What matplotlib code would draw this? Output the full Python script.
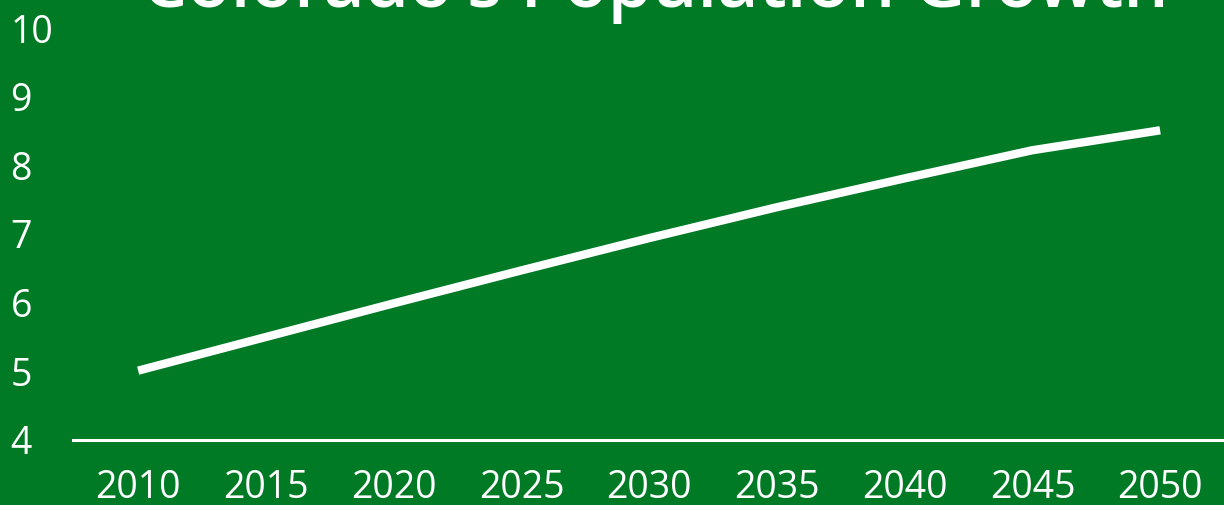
import matplotlib
matplotlib.use("Agg")
import matplotlib.pyplot as plt

# Colorado population (millions)
years = [2010, 2015, 2020, 2025, 2030, 2035, 2040, 2045, 2050]
population = [5.01, 5.50, 5.99, 6.47, 6.94, 7.39, 7.81, 8.22, 8.51]
y_ticks = [4, 5, 6, 7, 8, 9, 10]
title = "Colorado's Population Growth"

BG = "#017A26"
FG = "white"
FONT = "Open Sans"

fig = plt.figure(figsize=(12.24, 5.05), dpi=100, facecolor=BG)
ax = fig.add_axes([73 / 1224, 1 - 440 / 505, 1 - 73 / 1224, (440 - 28) / 505])
ax.set_facecolor(BG)

ax.plot(years, population, color=FG, linewidth=6, solid_capstyle="butt",
        clip_on=False)

ax.set_xlim(2007.45, 2052.5)
ax.set_ylim(4, 10)
ax.set_xticks(years)
ax.set_yticks(y_ticks)

for side in ("top", "right", "left"):
    ax.spines[side].set_visible(False)
ax.spines["bottom"].set_color(FG)
ax.spines["bottom"].set_linewidth(2.2)

ax.tick_params(axis="both", length=0, colors=FG, labelsize=27)
ax.tick_params(axis="x", pad=21)
ax.tick_params(axis="y", pad=45)
for lbl in ax.get_xticklabels() + ax.get_yticklabels():
    lbl.set_fontfamily(FONT)
    lbl.set_fontweight("medium")
for lbl in ax.get_yticklabels():
    lbl.set_horizontalalignment("left")

# title sits mostly above the top edge, as in the source image
fig.text(655 / 1224, 1 - 7 / 505, title, color=FG, fontsize=51.3,
         fontfamily=FONT, fontweight="semibold", ha="center", va="baseline")

fig.savefig("out.png", dpi=100, facecolor=BG)
